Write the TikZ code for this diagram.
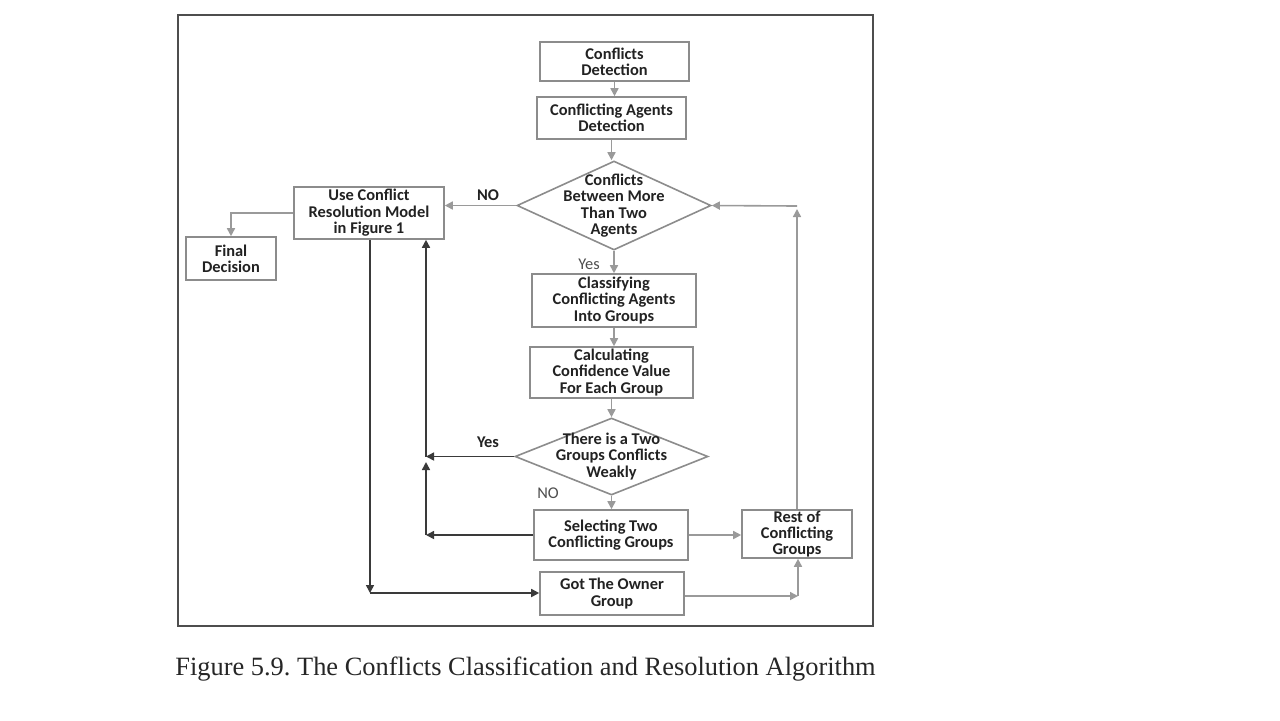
\documentclass[tikz,border=0pt]{standalone}
\usepackage{fontspec}
\setsansfont{Carlito}
\newfontfamily\capfont{Liberation Serif}
\usetikzlibrary{shapes.geometric,arrows.meta,calc}
\definecolor{boxline}{HTML}{8C8C8C}
\definecolor{gline}{HTML}{9A9A9A}
\definecolor{dline}{HTML}{3A3A3A}
\definecolor{txt}{HTML}{222222}
\tikzset{
  box/.style={draw=boxline, line width=0.8pt, fill=white, align=center, inner sep=0pt,
    font=\sffamily\bfseries\fontsize{8.2}{8.2}\selectfont, text=txt},
  dia/.style={draw=boxline, line width=0.8pt, diamond, inner sep=0pt},
  diatext/.style={align=center, font=\sffamily\bfseries\fontsize{8.2}{8.2}\selectfont, text=txt},
  garrow/.style={draw=gline, line width=0.8pt, -{Triangle[length=4pt,width=4pt]}},
  darrow/.style={draw=dline, line width=0.8pt, -{Triangle[length=4pt,width=4pt]}},
  lblb/.style={font=\sffamily\bfseries\fontsize{8.2}{8.4}\selectfont, text=txt},
  lbln/.style={font=\sffamily\fontsize{8.2}{8.4}\selectfont, text=txt!80},
}
\begin{document}
\frenchspacing
\begin{tikzpicture}[x=0.5pt,y=-0.5pt]
\useasboundingbox (0,0) rectangle (1280,720);
\fill[white] (0,0) rectangle (1280,720);
\draw[draw=dline!90, line width=1.1pt] (178,15) rectangle (873,626);

\node[box, minimum width=74.5pt, minimum height=19.5pt] (cd) at (614.5,61.5) {Conflicts\\Detection};
\node[box, minimum width=74.5pt, minimum height=21pt] (cad) at (611.5,118) {Conflicting Agents\\Detection};
\node[dia, minimum width=97pt, minimum height=44.5pt,
  label={[diatext]center:Conflicts\\Between More\\Than Two\\Agents}] (d1) at (614,205.5) {};
\node[box, minimum width=75pt, minimum height=26pt] (use) at (369,213) {Use Conflict\\Resolution Model\\in Figure 1};
\node[box, minimum width=45pt, minimum height=21.5pt] (fd) at (231,258.5) {Final\\Decision};
\node[box, minimum width=82pt, minimum height=26.5pt] (cls) at (614,300.5) {Classifying\\Conflicting Agents\\Into Groups};
\node[box, minimum width=81.5pt, minimum height=25.5pt] (calc) at (611.5,372.5) {Calculating\\Confidence Value\\For Each Group};
\node[dia, minimum width=96.5pt, minimum height=38.5pt,
  label={[diatext]center:There is a Two\\Groups Conflicts\\Weakly}] (d2) at (611.5,456.5) {};
\node[box, minimum width=77pt, minimum height=25pt] (sel) at (611,535) {Selecting Two\\Conflicting Groups};
\node[box, minimum width=55pt, minimum height=24pt] (rest) at (797,534) {Rest of\\Conflicting\\Groups};
\node[box, minimum width=72pt, minimum height=21.5pt] (got) at (612,593.5) {Got The Owner\\Group};

% gray main flow
\draw[garrow] (cd.south) -- (cd.south |- cad.north);
\draw[garrow] (cad.south) -- (cad.south |- d1.north);
\draw[garrow] (d1.west) -- (d1.west -| use.east);
\draw[garrow] (use.west) -| (fd.north);
\draw[garrow] (d1.south) -- (d1.south |- cls.north);
\draw[garrow] (cls.south) -- (cls.south |- calc.north);
\draw[garrow] (calc.south) -- (calc.south |- d2.north);
\draw[garrow] (d2.south) -- (d2.south |- sel.north);
\draw[garrow] (sel.east) -- (sel.east -| rest.west);

\coordinate (c5) at (798,596);
\draw[garrow] (got.east |- c5) -- (c5);
\draw[garrow] (c5) -- (c5 |- rest.south);
\coordinate (c6) at (797,206);
\coordinate (c7) at (797,209);
\draw[garrow] (rest.north -| c6) -- (c7);
\draw[garrow] (c6) -- (d1.east);

% dark connectors
\coordinate (c1) at (370,593);
\draw[darrow] (c1 |- use.south) -- (c1);
\draw[darrow] (c1) -- (c1 -| got.west);
\coordinate (c2) at (426,456.5);
\draw[darrow] (d2.west) -- (c2);
\draw[darrow] (c2) -- (c2 |- use.south);
\coordinate (c3) at (426,535);
\coordinate (c4) at (426,462);
\draw[darrow] (sel.west) -- (c3);
\draw[darrow] (c3) -- (c4);

% labels
\node[lblb] (l1) at (488,195) {NO};
\node[lbln] (l2) at (589,264) {Yes};
\node[lblb] (l3) at (488,442) {Yes};
\node[lbln] (l4) at (548,493) {NO};

\node[anchor=west, inner sep=0pt, font=\capfont\fontsize{13.2}{15}\selectfont, text=black!85] (cap) at (175,669)
  {Figure 5.9. The Conflicts Classification and Resolution Algorithm};
\end{tikzpicture}
\end{document}
